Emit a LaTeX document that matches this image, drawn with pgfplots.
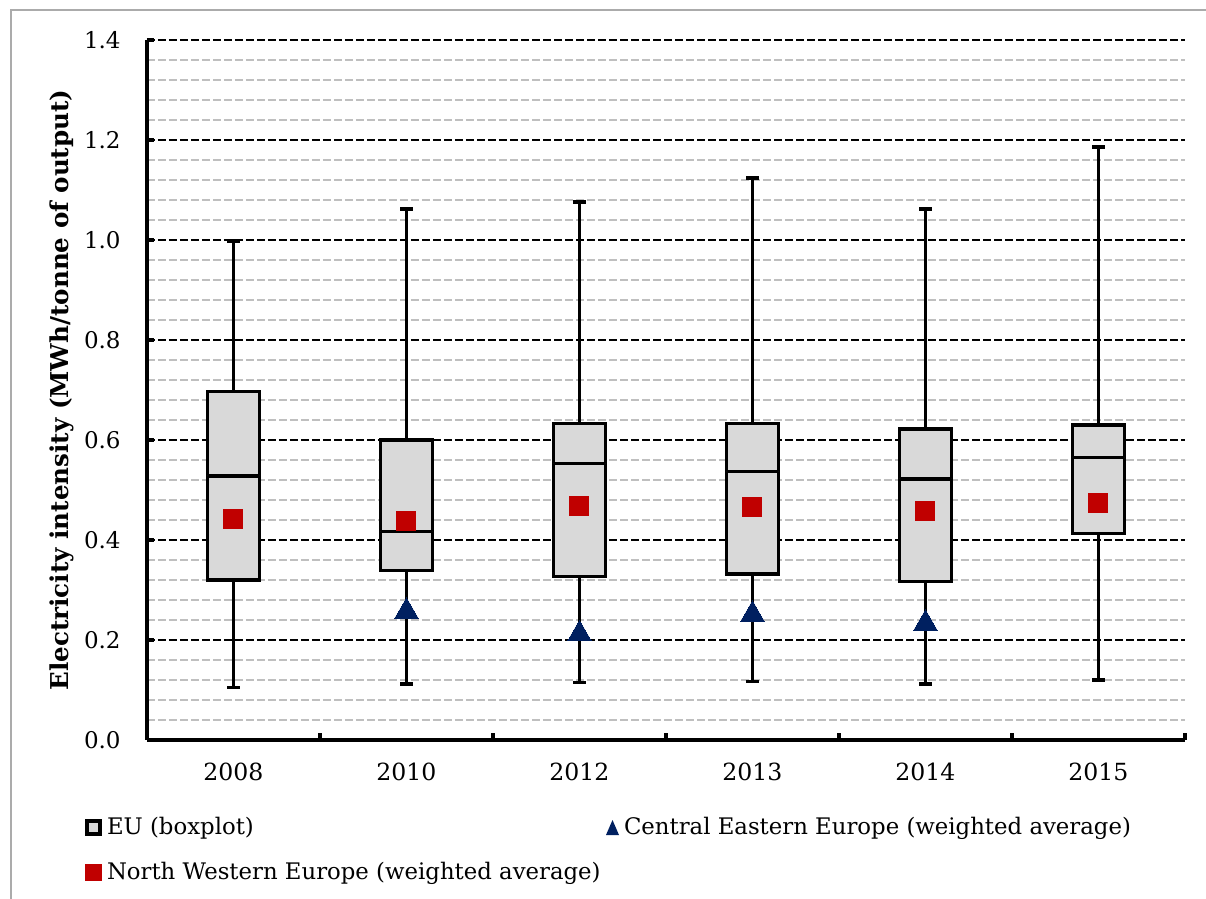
\documentclass[border=0pt]{standalone}
\usepackage{fontspec}
\setmainfont{DejaVu Serif}
\usepackage{pgfplots}
\pgfplotsset{compat=1.18}
\usepgfplotslibrary{statistics}
\definecolor{boxgray}{HTML}{D9D9D9}
\definecolor{nwred}{HTML}{C00000}
\definecolor{ceblue}{HTML}{002060}
\definecolor{gridgray}{HTML}{BFBFBF}
\definecolor{framegray}{HTML}{ABABAB}
\pgfplotsset{
  eubox/.style={draw=black, fill=boxgray, line width=1.8pt, forget plot,
    boxplot/draw direction=y,
    boxplot prepared={draw direction=y, box extend=0.3, whisker extend=0.07, #1}},
}
\begin{document}
\begin{tikzpicture}
\useasboundingbox (-73.5pt,-79.5pt) rectangle (529.5pt,370pt);
\draw[framegray, line width=0.75pt] (529.5pt,365pt) -- (-68pt,365pt) -- (-68pt,-79.5pt);
\begin{axis}[
  at={(0,0)}, anchor=south west,
  scale only axis, width=519pt, height=350pt,
  xmin=-0.5, xmax=5.5, ymin=0, ymax=1.4,
  boxplot/draw direction=y,
  axis x line*=bottom, axis y line*=left,
  axis line style={-, line width=2pt, black},
  tick align=inside,
  major tick length=3.5pt, minor tick length=0pt,
  tick style={black, line width=2pt},
  xtick={-0.5,0.5,1.5,2.5,3.5,4.5,5.5},
  xticklabels={2008,2010,2012,2013,2014,2015,{}},
  xticklabel style={font=\fontsize{11.8}{13}\selectfont, anchor=north, inner sep=0pt, yshift=-11.5pt, xshift=43.25pt},
  ytick={0,0.2,0.4,0.6,0.8,1.0,1.2,1.4},
  minor y tick num=4,
  ymajorgrids, yminorgrids,
  major grid style={black, line width=1.1pt, dash pattern=on 3.8pt off 1.7pt},
  minor grid style={gridgray, line width=1pt, dash pattern=on 3.8pt off 1.7pt},
  /pgf/number format/assume math mode=true,
  yticklabel style={font=\fontsize{11.5}{13}\selectfont, anchor=east, inner sep=0pt, xshift=-13pt,
    /pgf/number format/fixed, /pgf/number format/fixed zerofill, /pgf/number format/precision=1},
  ylabel={Electricity intensity (MWh/tonne of output)},
  ylabel style={font=\bfseries\fontsize{12.3}{14}\selectfont, at={(axis description cs:-0.0819,0.5)}, anchor=center},
  legend columns=2,
  legend style={draw=none, fill=none, inner sep=0pt, outer sep=0pt,
    at={(-0.05973,-0.1105)}, anchor=north west,
    font=\fontsize{11.4}{13}\selectfont,
    nodes={inner sep=0pt},
    row sep=12.5pt,
    /tikz/every odd column/.append style={column sep=2.5pt},
    /tikz/every even column/.append style={column sep=1.5pt}},
  legend cell align=left,
]
\addlegendimage{legend image code/.code={\path[draw=none, fill=none] (0,-4.25pt) rectangle (8.5pt,4.25pt);
  \draw[fill=boxgray, draw=black, line width=2pt] (1pt,-3.25pt) rectangle (7.5pt,3.25pt);}}
\addplot[eubox={draw position=0, lower whisker=0.105, lower quartile=0.320, median=0.528, upper quartile=0.697, upper whisker=0.998}] coordinates {};
\addplot[eubox={draw position=1, lower whisker=0.112, lower quartile=0.339, median=0.417, upper quartile=0.600, upper whisker=1.062}] coordinates {};
\addplot[eubox={draw position=2, lower whisker=0.115, lower quartile=0.327, median=0.553, upper quartile=0.633, upper whisker=1.076}] coordinates {};
\addplot[eubox={draw position=3, lower whisker=0.117, lower quartile=0.332, median=0.537, upper quartile=0.633, upper whisker=1.124}] coordinates {};
\addplot[eubox={draw position=4, lower whisker=0.112, lower quartile=0.317, median=0.522, upper quartile=0.622, upper whisker=1.062}] coordinates {};
\addplot[eubox={draw position=5, lower whisker=0.120, lower quartile=0.413, median=0.565, upper quartile=0.630, upper whisker=1.186}] coordinates {};
\addplot[only marks, mark=triangle*, mark size=6.8pt, mark options={draw=ceblue, fill=ceblue, line width=0pt},
  legend image code/.code={\fill[ceblue, draw=none] (0,-3.75pt) -- (6.5pt,-3.75pt) -- (3.25pt,3.75pt) -- cycle;}]
  coordinates {(1,0.257) (2,0.212) (3,0.251) (4,0.233)};
\addplot[only marks, mark=square*, mark size=4.75pt, mark options={draw=nwred, fill=nwred, line width=0pt},
  legend image code/.code={\fill[nwred, draw=none] (0,-4.25pt) rectangle (8.5pt,4.25pt);}]
  coordinates {(0,0.441) (1,0.437) (2,0.467) (3,0.465) (4,0.457) (5,0.473)};
\legend{EU (boxplot), Central Eastern Europe (weighted average), {\makebox[248pt][l]{North Western Europe (weighted average)}}}
\end{axis}
\end{tikzpicture}
\end{document}
